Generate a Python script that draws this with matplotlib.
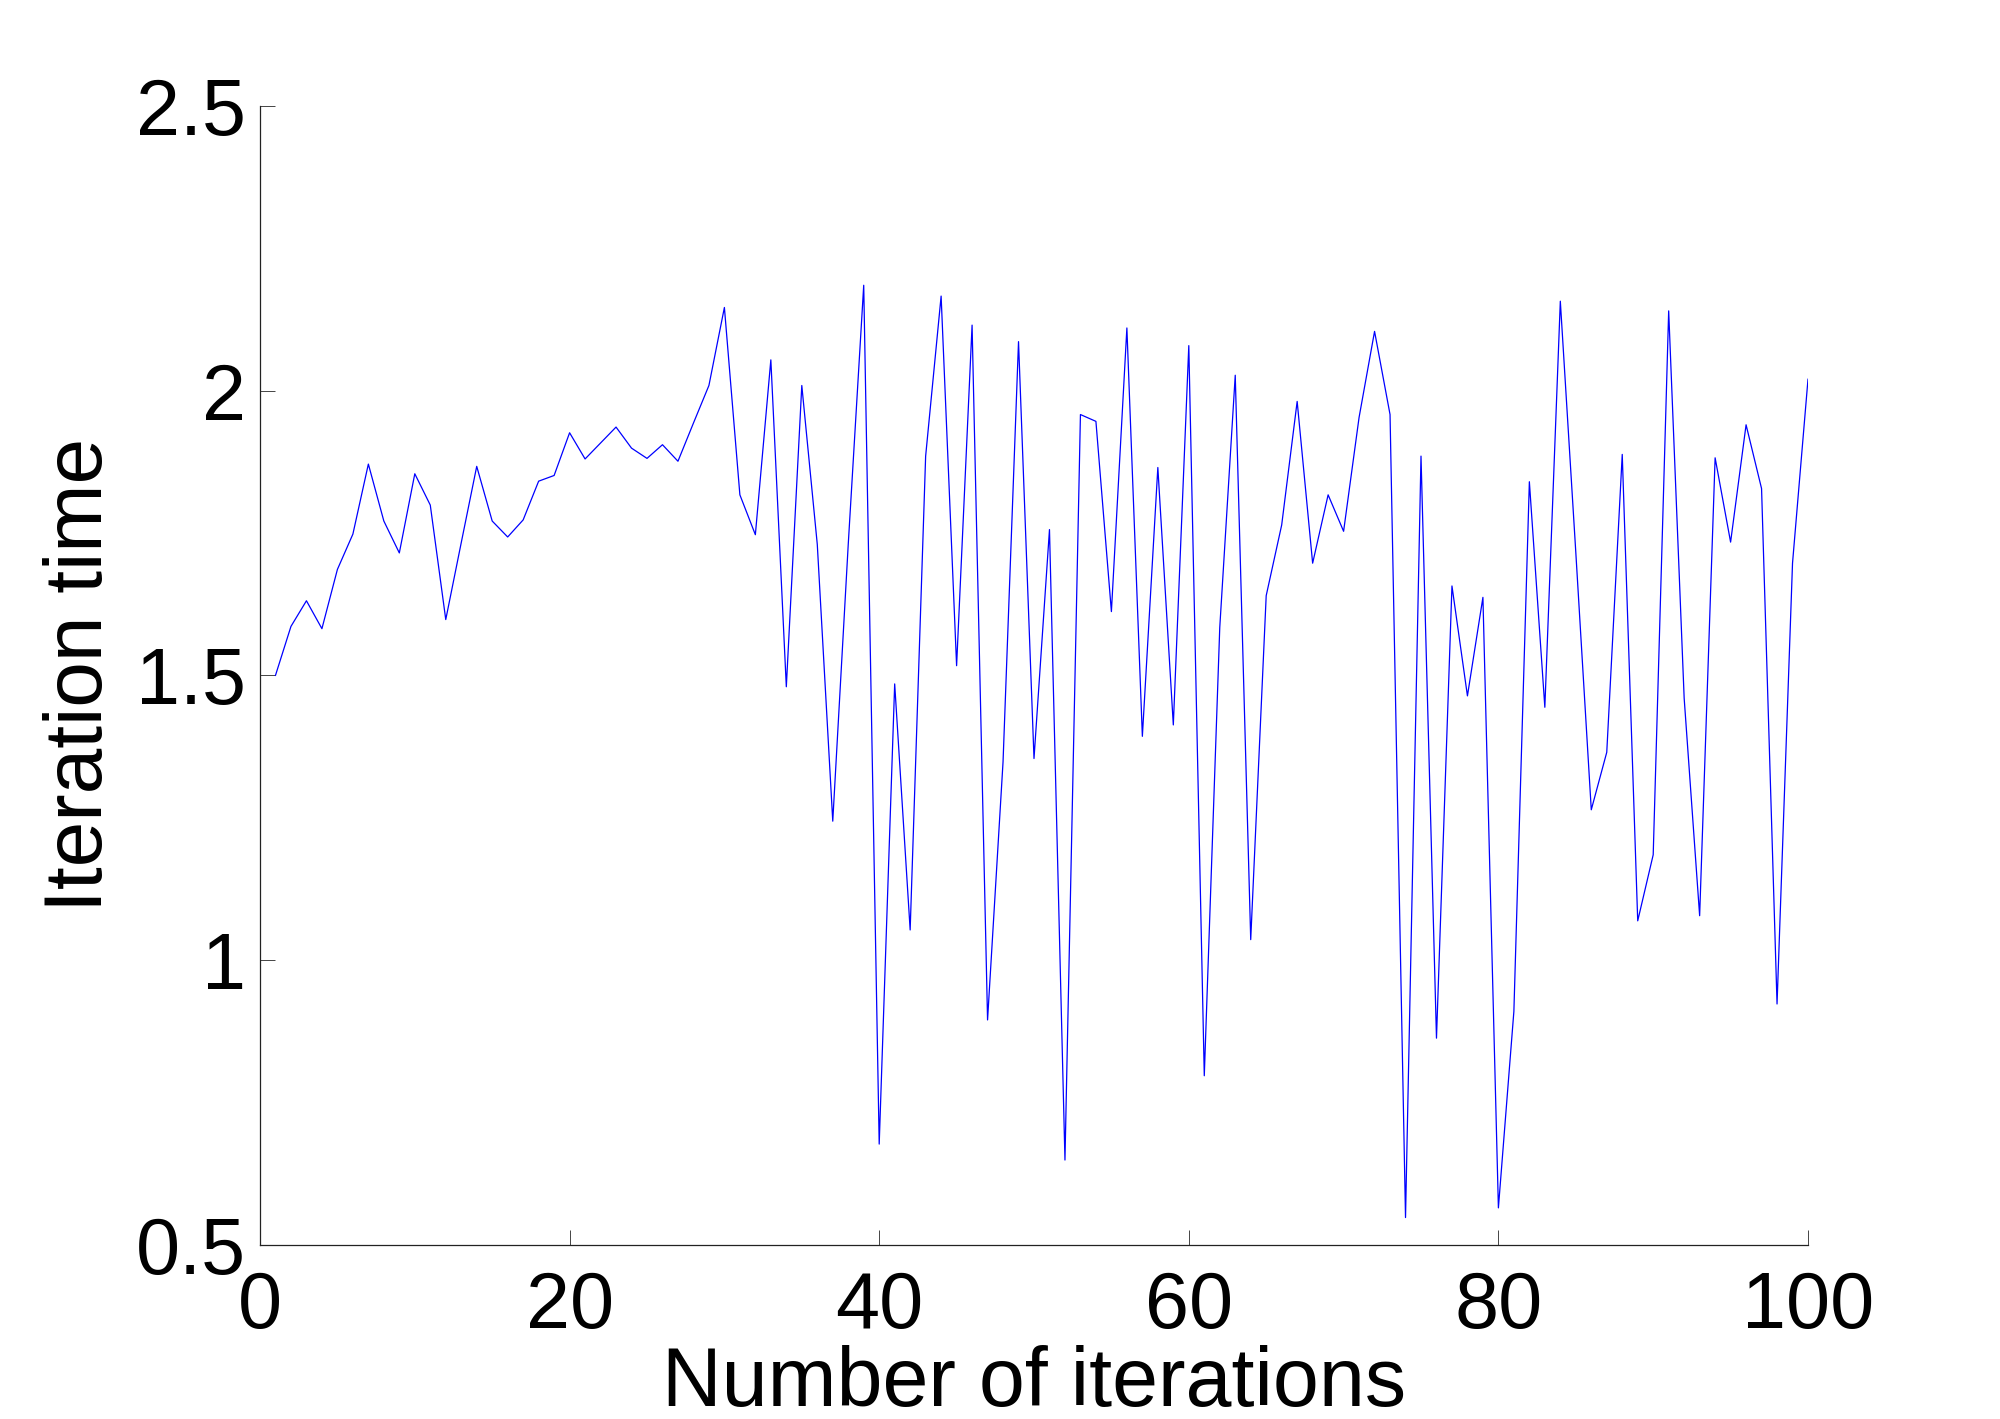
import matplotlib
matplotlib.use("Agg")
import matplotlib.pyplot as plt

iterations = list(range(1, 101))
iteration_time = [
    1.50, 1.586, 1.631, 1.582, 1.686, 1.748, 1.871, 1.771, 1.715, 1.854,
    1.799, 1.598, 1.733, 1.867, 1.771, 1.743, 1.773, 1.841, 1.851, 1.926,
    1.880, 1.908, 1.936, 1.899, 1.881, 1.905, 1.876, 1.943, 2.009, 2.146,
    1.817, 1.747, 2.054, 1.480, 2.009, 1.730, 1.244, 1.730, 2.185, 0.677,
    1.485, 1.053, 1.885, 2.166, 1.517, 2.115, 0.895, 1.348, 2.086, 1.354,
    1.756, 0.649, 1.958, 1.946, 1.612, 2.110, 1.393, 1.865, 1.413, 2.079,
    0.797, 1.584, 2.027, 1.036, 1.640, 1.764, 1.981, 1.697, 1.817, 1.753,
    1.953, 2.104, 1.958, 0.548, 1.885, 0.863, 1.657, 1.464, 1.637, 0.565,
    0.910, 1.840, 1.444, 2.157, 1.716, 1.264, 1.365, 1.888, 1.069, 1.185,
    2.140, 1.460, 1.078, 1.882, 1.734, 1.940, 1.828, 0.923, 1.697, 2.020,
]
x_ticks = [0, 20, 40, 60, 80, 100]
y_ticks = [0.5, 1, 1.5, 2, 2.5]
y_tick_labels = ["0.5", "1", "1.5", "2", "2.5"]

plt.rcParams['font.family'] = ['Liberation Sans', 'DejaVu Sans']

fig = plt.figure(figsize=(20, 14.19), dpi=100)
ax = fig.add_axes([0.130, 0.1227, 0.774, 0.8027])
ax.plot(iterations, iteration_time, color=(0, 0, 1), linewidth=0.9)

ax.set_xlim(0, 100)
ax.set_ylim(0.5, 2.5)
ax.set_xticks(x_ticks)
ax.set_xticklabels([str(t) for t in x_ticks])
ax.set_yticks(y_ticks)
ax.set_yticklabels(y_tick_labels)

for s in ['top', 'right']:
    ax.spines[s].set_visible(False)
for s in ['left', 'bottom']:
    ax.spines[s].set_linewidth(0.9)
    ax.spines[s].set_color('#222222')

ax.tick_params(direction='in', length=10.8, width=0.7, color='#444444',
               labelsize=57)
ax.tick_params(axis='x', pad=18)
ax.tick_params(axis='y', pad=10)

ax.set_xlabel("Number of iterations", fontsize=59.5, labelpad=0)
ax.set_ylabel("Iteration time", fontsize=59, labelpad=12)

fig.savefig("out.png", dpi=100)
